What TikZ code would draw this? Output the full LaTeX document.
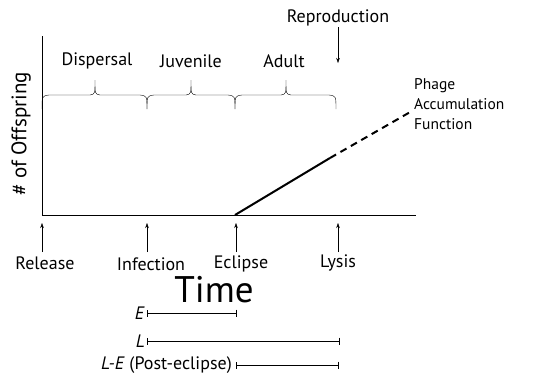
\documentclass[tikz,border=0pt]{standalone}
\usepackage{fontspec}
\setmainfont{PT Sans}
\usetikzlibrary{arrows.meta, positioning, calc}
% curly brace opening downwards, tip at top
\newcommand{\phasebrace}[3]{%
  \draw[thin] (#1,109) .. controls (#1,96) .. (#1+7,95) -- (#3-5,95)
    .. controls (#3,94) .. (#3,80) .. controls (#3,94) .. (#3+5,95)
    -- (#2-7,95) .. controls (#2,96) .. (#2,109);}
\begin{document}
\begin{tikzpicture}[
  x=1pt, y=-1pt,
  font=\fontsize{18}{20}\selectfont,
  lbl/.style={inner sep=1pt},
  tick/.style={-{Stealth[length=5pt,width=3.5pt]}, thin},
  span/.style={{Bar[width=7pt]}-{Bar[width=7pt]}, thin},
  acc/.style={line width=2pt}
]
\useasboundingbox (0,0) rectangle (545,376);

% axes
\coordinate (o) at (42,215);
\draw[thin] (42,36) -- (o) -- (416,215);
\node[rotate=90, lbl, font=\fontsize{21}{24}\selectfont] (ylab) at (21,134) {\# of Offspring};

% phases
\phasebrace{42}{147}{95}
\phasebrace{147}{235}{191}
\phasebrace{235}{336}{286}
\node[lbl] (disp) at (97,61) {Dispersal};
\node[lbl] (juv) at (191,61) {Juvenile};
\node[lbl] (adult) at (284,61) {Adult};

\node[lbl] (repro) at (338,18) {Reproduction};
\coordinate (reprotip) at (338,63);
\draw[tick] (repro) -- (reprotip);

% accumulation function
\coordinate (ecl) at (235,215);
\coordinate (lys) at (330,158);
\coordinate (far) at (412,111);
\draw[acc] (ecl) -- (lys);
\draw[acc, dash pattern=on 7pt off 5pt] (lys) -- (far);
\node[lbl, anchor=west, align=left, font=\fontsize{15.5}{20}\selectfont] (paf) at (413,104)
  {Phage\\Accumulation\\Function};

% events on the time axis
\node[lbl] (release) at (45,263) {Release};
\node[lbl] (infection) at (151,264) {Infection};
\node[lbl] (eclipse) at (241,264) {Eclipse};
\node[lbl] (lysis) at (338,263) {Lysis};
\foreach \n/\x in {release/42, infection/147, eclipse/236, lysis/338}
  \draw[tick] (\x,252) -- (\x,223);

\node[lbl, font=\fontsize{37}{40}\selectfont] (time) at (214,290) {Time};

% intervals
\node[lbl, anchor=east] (E) at (146,313) {\textit{E}};
\draw[span] (147,313) -- (236,313);
\node[lbl, anchor=east] (L) at (146,341) {\textit{L}};
\draw[span] (147,341) -- (339,341);
\node[lbl, anchor=east] (LE) at (233,365) {\textit{L-E} (Post-eclipse)};
\draw[span] (236,365) -- (338,365);
\end{tikzpicture}
\end{document}
